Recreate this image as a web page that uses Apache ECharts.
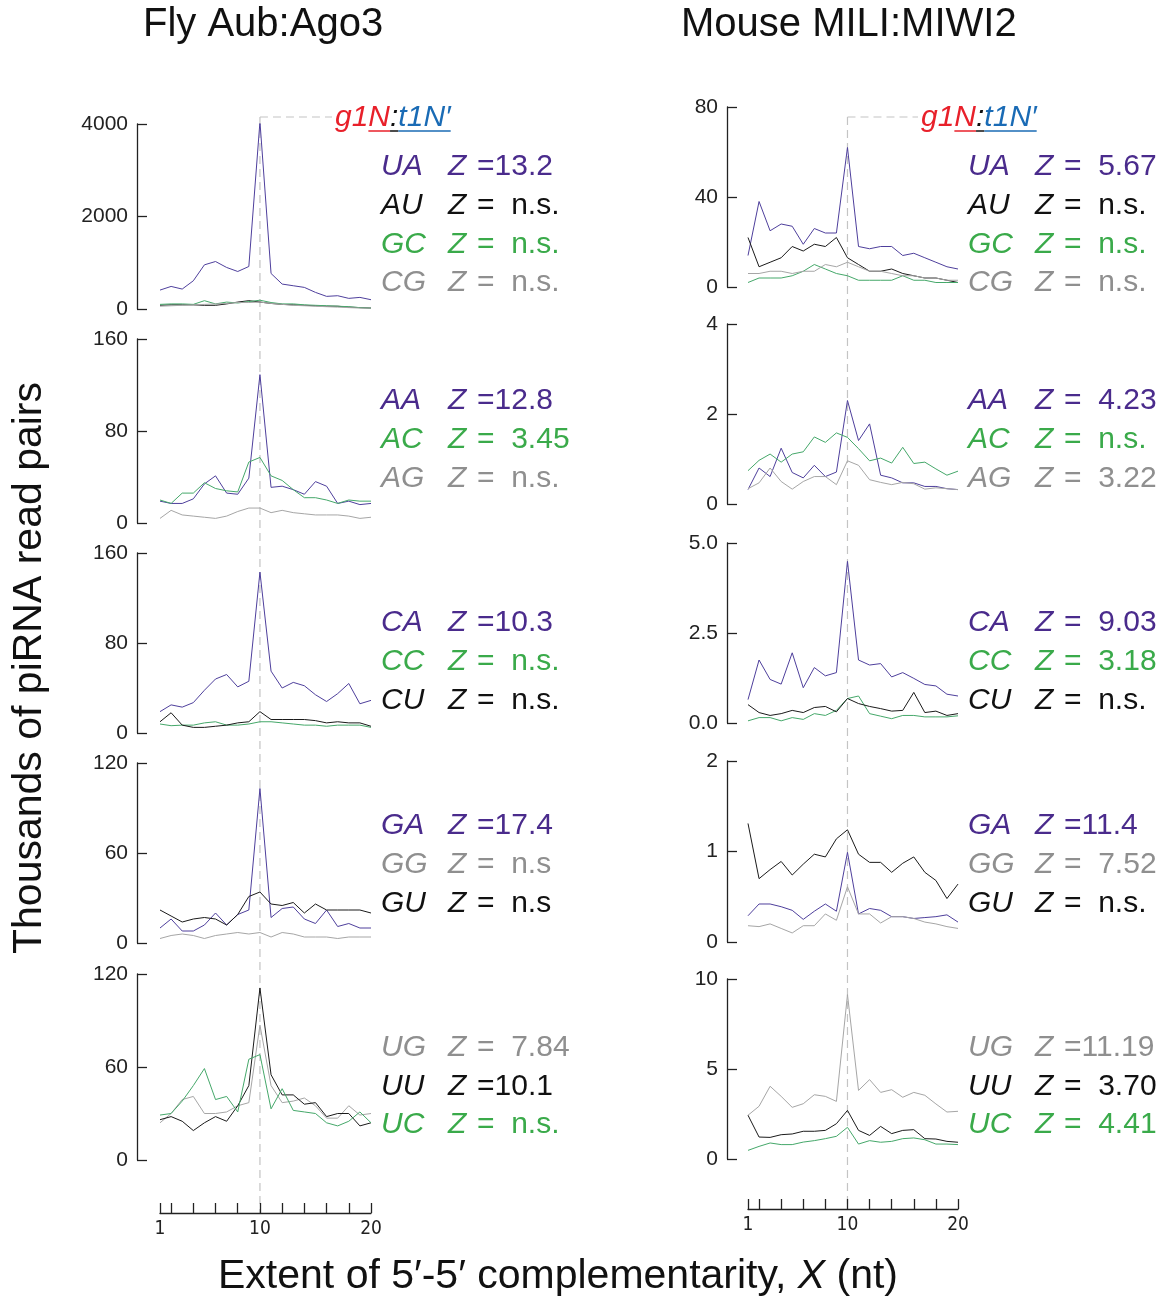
<!DOCTYPE html>
<html><head><meta charset="utf-8">
<script src="https://cdn.jsdelivr.net/npm/echarts@6/dist/echarts.min.js"></script>
<style>html,body{margin:0;padding:0;background:#fff}#c{width:1173px;height:1300px}</style>
</head><body><div id="c"></div>
<script>
// ---------- DATA ----------
const positions = [1,2,3,4,5,6,7,8,9,10,11,12,13,14,15,16,17,18,19,20];
const xTickValues = [1,2,4,6,8,10,12,14,16,18,20];
const xTickLabels = [1,10,20];

// Fly Aub:Ago3 (thousands of read pairs)
const flyUA = [409,488,431,610,955,1027,898,811,919,4050,768,539,503,467,359,273,287,230,251,201];
const flyAU = [80,90,90,90,80,80,110,150,180,150,120,100,90,80,70,60,60,40,30,20];
const flyGC = [100,110,110,100,180,110,150,130,160,190,140,110,110,90,80,70,60,50,30,20];
const flyCG = [60,70,80,90,100,110,120,140,140,150,120,100,80,70,60,50,40,30,20,20];

const flyAA = [19,17,17,21,34,41,26,25,39,129,31,32,29,25,36,32,17,19,16,17];
const flyAC = [20,17,26,26,35,30,28,27,53,57,41,37,29,22,22,20,17,20,19,19];
const flyAG = [4,11,7,6,5,4,6,10,13,13,9,11,9,8,7,7,7,6,4,5];

const flyCA = [19,25,23,27,38,48,52,41,46,143,55,40,45,42,34,28,35,44,26,29];
const flyCC = [8,6.5,7,7,9,10,7,7,8,10,10,9,8,7,7,6,7,7,7,5];
const flyCU = [10,18,7,5,5,6,7,9,10,19,12,12,12,12,11,9,10,9,9,6];

const flyGA = [10,16,8,8,12,20,12,19,22,103,17,23,24,16,13,22,11,13,10,10];
const flyGG = [3,5,6,5,3,5,6,7,6,7,4,7,6,4,4,4,3,4,4,4];
const flyGU = [22,18,14,16,17,16,12,19,31,34,26,25,27,20,26,22,22,22,22,20];

const flyUG = [24,30,39,41,30,30,31,35,37,87,48,37,38,40,35,27,27,35,29,30];
const flyUU = [26,28,25,19,24,28,25,35,48,111,55,42,42,36,37,28,30,30,22,24];
const flyUC = [29,30,38,48,59,39,41,31,65,68,33,46,32,31,30,24,22,25,31,24];

// Mouse MILI:MIWI2
const mUA = [14,38,25,28,27,19,26,24,24,62,18,17,18,18,14,15,13,11,9,8];
const mAU = [22,9,11,13,18,16,19,18,22,13,10,7,7,8,6,5,4,4,3,2];
const mGC = [2,4,4,4,5,7,10,8,6,5,3,3,3,3,5,3,3,2,2,2];
const mCG = [6,6,7,7,6,7,7,10,9,11,9,7,7,6,5,5,4,4,3,3];

const mAA = [0.32,0.80,0.61,1.24,0.70,0.58,0.86,0.61,0.71,2.30,1.41,1.78,0.64,0.58,0.47,0.47,0.39,0.39,0.34,0.32];
const mAC = [0.74,0.97,1.11,0.93,1.11,1.16,1.49,1.37,1.58,1.48,1.23,0.96,1.02,0.91,1.26,0.90,0.93,0.78,0.64,0.73];
const mAG = [0.34,0.47,0.80,0.50,0.33,0.50,0.61,0.61,0.43,0.96,0.86,0.54,0.48,0.43,0.48,0.45,0.33,0.36,0.34,0.32];

const mCA = [0.65,1.75,1.21,1.08,1.95,0.98,1.54,1.31,1.40,4.49,1.75,1.61,1.65,1.28,1.40,1.24,1.07,1.03,0.80,0.75];
const mCC = [0.06,0.15,0.15,0.06,0.15,0.10,0.26,0.21,0.35,0.68,0.75,0.26,0.19,0.12,0.21,0.21,0.17,0.17,0.17,0.20];
const mCU = [0.51,0.29,0.21,0.26,0.35,0.29,0.43,0.46,0.31,0.68,0.54,0.46,0.40,0.33,0.35,0.85,0.29,0.33,0.21,0.26];

const mGA = [0.29,0.42,0.42,0.39,0.35,0.25,0.34,0.42,0.34,0.99,0.31,0.37,0.35,0.28,0.28,0.26,0.27,0.28,0.30,0.22];
const mGG = [0.18,0.17,0.20,0.15,0.10,0.18,0.18,0.31,0.24,0.61,0.31,0.31,0.21,0.28,0.28,0.26,0.22,0.20,0.17,0.15];
const mGU = [1.31,0.70,0.80,0.89,0.74,0.86,0.97,0.94,1.14,1.24,0.97,0.88,0.88,0.77,0.87,0.94,0.77,0.68,0.48,0.64];

const mUG = [2.43,2.93,4.04,3.48,2.87,3.07,3.57,3.48,3.20,9.13,3.81,4.41,3.70,3.85,3.43,3.70,3.54,3.06,2.61,2.65];
const mUU = [2.43,1.22,1.20,1.35,1.39,1.54,1.54,1.59,1.96,2.70,1.59,1.31,1.81,1.41,1.59,1.63,1.13,1.11,0.98,0.93];
const mUC = [0.48,0.70,0.89,0.80,0.80,0.94,1.02,1.13,1.26,1.76,0.83,1.02,0.93,0.98,1.13,1.17,1.07,0.83,0.83,0.80];

// y-axis ranges (max, interval)
const flyYMax = [4000,160,160,120,120];
const flyYStep = [2000,80,80,60,60];
const mYMax = [80,4,5,2,10];
const mYStep = [40,2,2.5,1,5];

// Series per panel: [name, values, colourKey]
const flyPanels = [
  [['UA',flyUA,'p'],['AU',flyAU,'k'],['GC',flyGC,'g'],['CG',flyCG,'y']],
  [['AA',flyAA,'p'],['AC',flyAC,'g'],['AG',flyAG,'y']],
  [['CA',flyCA,'p'],['CC',flyCC,'g'],['CU',flyCU,'k']],
  [['GA',flyGA,'p'],['GG',flyGG,'y'],['GU',flyGU,'k']],
  [['UG',flyUG,'y'],['UU',flyUU,'k'],['UC',flyUC,'g']]
];
const mPanels = [
  [['UA',mUA,'p'],['AU',mAU,'k'],['GC',mGC,'g'],['CG',mCG,'y']],
  [['AA',mAA,'p'],['AC',mAC,'g'],['AG',mAG,'y']],
  [['CA',mCA,'p'],['CC',mCC,'g'],['CU',mCU,'k']],
  [['GA',mGA,'p'],['GG',mGG,'y'],['GU',mGU,'k']],
  [['UG',mUG,'y'],['UU',mUU,'k'],['UC',mUC,'g']]
];
// Z-score texts per panel
const flyZ = [['=13.2','=  n.s.','=  n.s.','=  n.s.'],['=12.8','=  3.45','=  n.s.'],['=10.3','=  n.s.','=  n.s.'],['=17.4','=  n.s','=  n.s'],['=  7.84','=10.1','=  n.s.']];
const mZ = [['=  5.67','=  n.s.','=  n.s.','=  n.s.'],['=  4.23','=  n.s.','=  3.22'],['=  9.03','=  3.18','=  n.s.'],['=11.4','=  7.52','=  n.s.'],['=11.19','=  3.70','=  4.41']];

// ---------- STYLE / LAYOUT ----------
const FONT = '"Liberation Sans", Arial, Helvetica, sans-serif';
const NARROW = '"Liberation Sans Narrow", "DejaVu Sans Condensed", "Liberation Sans", sans-serif';
const lineCol = {p:'#4e3f9c', k:'#1a1a1a', g:'#45a86a', y:'#a6a6a6'};
const textCol = {p:'#4a2b8c', k:'#111111', g:'#3aaa4a', y:'#8f8f8f'};
const cols = [
  {x0:160, x1:371, axOff:23, tops:[124,339,553,763,974], bots:[309,523,733,943,1160], rows:[[165,204,243,281],[399,438,477],[621,660,699],[824,863,902],[1046,1085,1123]], tx:381, bottomOff:53},
  {x0:748, x1:958, axOff:21, tops:[107,324,543,761,979], bots:[287,504,723,942,1159], rows:[[165,204,243,281],[399,438,477],[621,660,699],[824,863,902],[1046,1085,1123]], tx:968, bottomOff:50}
];
const colData = [
  {panels:flyPanels, ymax:flyYMax, ystep:flyYStep, z:flyZ},
  {panels:mPanels, ymax:mYMax, ystep:mYStep, z:mZ}
];

const grid=[], xAxis=[], yAxis=[], series=[], graphic=[];
const axisCol = '#222';
const LBL = 'italic 30px '+FONT, LBLN = '30px '+FONT;
colData.forEach((cd, c) => {
  const L = cols[c];
  cd.panels.forEach((panel, r) => {
    const gi = grid.length;
    grid.push({left:L.x0, top:L.tops[r], width:L.x1-L.x0, height:L.bots[r]-L.tops[r], containLabel:false, outerBoundsMode:'none'});
    const isBottom = r === cd.panels.length-1;
    xAxis.push({
      gridIndex:gi, type:'value', min:1, max:20, show:isBottom, offset:isBottom?L.bottomOff:0, position:'bottom',
      axisLine:{show:true, onZero:false, lineStyle:{color:axisCol, width:1.3}},
      axisTick:{show:true, inside:true, length:10, customValues:xTickValues, lineStyle:{color:axisCol, width:1.3}},
      axisLabel:{show:true, customValues:xTickLabels, fontFamily:NARROW, fontSize:19, color:'#222', margin:7},
      splitLine:{show:false}
    });
    const isDec = cd.ystep[r] % 1 !== 0;
    yAxis.push({
      gridIndex:gi, type:'value', min:0, max:cd.ymax[r], interval:cd.ystep[r], offset:L.axOff,
      axisLine:{show:true, onZero:false, lineStyle:{color:axisCol, width:1.3}},
      axisTick:{show:true, inside:true, length:10, lineStyle:{color:axisCol, width:1.3}},
      axisLabel:{fontFamily:FONT, fontSize:21, color:'#222', margin:9, formatter: v => isDec ? v.toFixed(1) : String(v)},
      splitLine:{show:false}
    });
    panel.forEach(([name, vals, ck]) => {
      series.push({
        type:'line', name, xAxisIndex:gi, yAxisIndex:gi, symbol:'none', silent:true,
        data: positions.map((x,i)=>[x, vals[i]]),
        lineStyle:{color:lineCol[ck], width:1}, itemStyle:{color:lineCol[ck]}
      });
    });
    // annotation labels
    panel.forEach(([name,, ck], k) => {
      const y = L.rows[r][k] + 2;
      graphic.push({type:'text', x:L.tx, y:y, style:{text:name, font:LBL, fill:textCol[ck], verticalAlign:'middle'}});
      graphic.push({type:'text', x:L.tx+67, y:y, style:{text:'Z', font:LBL, fill:textCol[ck], verticalAlign:'middle'}});
      graphic.push({type:'text', x:L.tx+96, y:y, style:{text:cd.z[r][k], font:LBLN, fill:textCol[ck], verticalAlign:'middle'}});
    });
  });
});

// titles
graphic.push({type:'text', x:143, y:25, style:{text:'Fly Aub:Ago3', font:'40px '+FONT, fill:'#111', verticalAlign:'middle'}});
graphic.push({type:'text', x:681, y:25, style:{text:'Mouse MILI:MIWI2', font:'40px '+FONT, fill:'#111', verticalAlign:'middle'}});
graphic.push({type:'text', x:30, y:668, rotation:Math.PI/2, style:{text:'Thousands of piRNA read pairs', font:'41px '+FONT, fill:'#111', align:'center', verticalAlign:'middle'}});
graphic.push({type:'text', x:558, y:1277, style:{
  text:'{n|Extent of 5\u2032-5\u2032 complementarity, }{i|X}{n| (nt)}', align:'center', verticalAlign:'middle',
  rich:{n:{font:'41px '+FONT, fill:'#111'}, i:{font:'italic 41px '+FONT, fill:'#111'}}}});

const chart = echarts.init(document.getElementById('c'), null, {renderer:'canvas'});
chart.setOption({animation:false, backgroundColor:'#fff', grid, xAxis, yAxis, series, graphic});

// reference dashed line at X = 10 + g1N:t1N' tag, positioned through the axes' scales
const ctx = document.createElement('canvas').getContext('2d');
ctx.font = 'italic 30px "Liberation Sans"';
const extra = [];
cols.forEach((L, c) => {
  const gTop = c*5;
  const px = chart.convertToPixel({gridIndex:gTop}, [10, 0])[0];
  const yTop = 117;
  const yBot = L.bots[4] + L.bottomOff;
  const dash = {stroke:'#c4c4c4', lineWidth:1.2, lineDash:[8,5]};
  extra.push({type:'line', shape:{x1:px, y1:yTop, x2:px, y2:yBot}, style:dash, z:-1});
  const labX = c===0 ? 335 : 921;
  extra.push({type:'line', shape:{x1:px, y1:yTop, x2:labX-3, y2:yTop}, style:dash, z:-1});
  const parts = [['g1','#e8202a'],['N','#e8202a'],[':','#111'],['t1N\u2032','#1a6bb5']];
  let x = labX;
  parts.forEach(([t, col], i) => {
    const w = ctx.measureText(t).width;
    extra.push({type:'text', x:x, y:yTop+1, style:{text:t, font:'italic 30px '+FONT, fill:col, verticalAlign:'middle'}});
    if (i>0) extra.push({type:'line', shape:{x1:x, y1:yTop+14, x2:x+w, y2:yTop+14}, style:{stroke:col, lineWidth:1.5}});
    x += w;
  });
});
chart.setOption({graphic: graphic.concat(extra)});
</script></body></html>
